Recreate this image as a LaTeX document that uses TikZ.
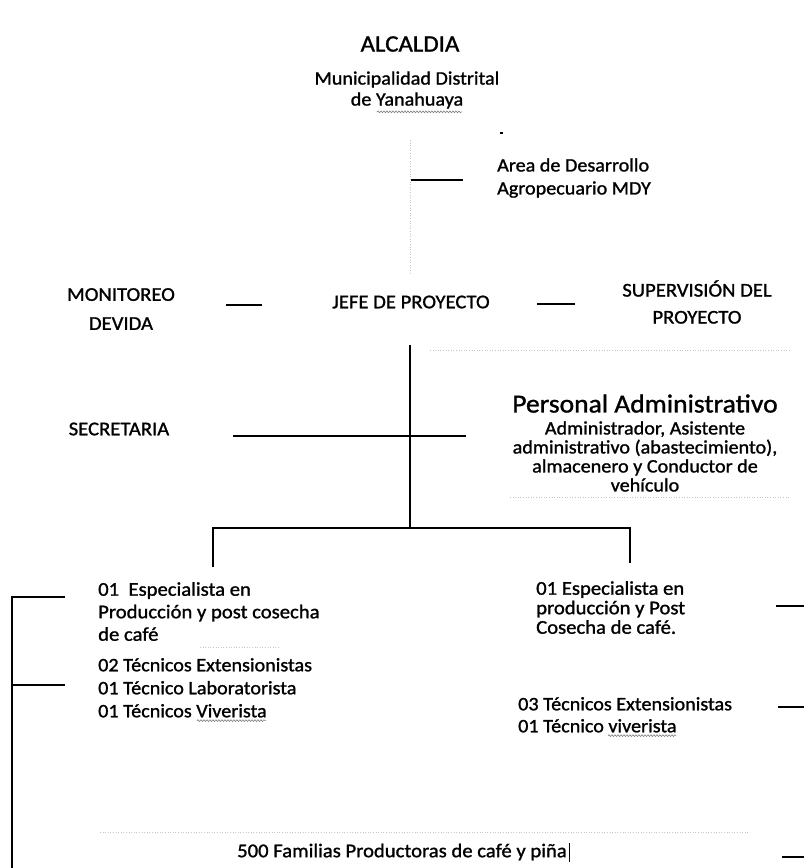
\documentclass[tikz,border=0pt]{standalone}
\usepackage{fontspec}
\setmainfont{Carlito}[FakeStretch=1.06,FakeBold=1.2]
\usetikzlibrary{calc,decorations.pathmorphing}
\begin{document}
\begin{tikzpicture}[x=1pt,y=-1pt,
  lbl/.style={inner sep=0pt, font=\fontsize{19.5}{29}\selectfont, align=center},
  lbll/.style={inner sep=0pt, anchor=west, align=left},
  conn/.style={line width=2pt},
  faint/.style={gray!45, dotted, line width=0.6pt},
  squiggle/.style={gray, line width=0.6pt, decorate, decoration={snake, amplitude=0.9pt, segment length=3pt}}]
\useasboundingbox (0,0) rectangle (804,868);
\fill[white] (0,0) rectangle (804,868);

% top
\node[lbl, font=\fontsize{23.5}{26}\selectfont] (alc) at (410,44) {ALCALDIA};
\node[lbl, font=\fontsize{19}{21}\selectfont] (mun) at (407,90) {Municipalidad Distrital\\de Yanahuaya};
\draw[squiggle] ($(mun.south)+(-30,3)$) -- ($(mun.south)+(55,3)$);
\coordinate (dash) at (500,133);
\draw[line width=1.5pt] (dash) -- ++(3,0);
\node[lbll, font=\fontsize{19}{23}\selectfont] (area) at (497,178) {Area de Desarrollo\\Agropecuario MDY};
\coordinate (areaL) at (411,180);
\draw[conn] (areaL) -- ($(area.west)+(-34,2)$);
\draw[faint] (410,140) -- (410,275);

% row 2
\node[lbl] (mon) at (121,309) {MONITOREO\\DEVIDA};
\node[lbl] (jefe) at (411,302) {JEFE DE PROYECTO};
\node[lbl, font=\fontsize{19.5}{27}\selectfont] (sup) at (697,302) {SUPERVISIÓN DEL\\PROYECTO};
\coordinate (m1) at (226,305);
\coordinate (m2) at (262,305);
\draw[conn] (m1) -- (m2);
\coordinate (s1) at (537,304);
\coordinate (s2) at (575,304);
\draw[conn] (s1) -- (s2);
\draw[faint] (430,350) -- (790,350);

% row 3
\node[lbl] (sec) at (119,429) {SECRETARIA};
\node[lbl, font=\fontsize{19}{19}\selectfont] (adm) at (645,443)
  {{\fontsize{26}{28}\selectfont Personal Administrativo}\\[3pt]Administrador, Asistente\\administrativo (abastecimiento),\\almacenero y Conductor de\\vehículo};
\coordinate (top) at (410,345);
\coordinate (split) at (410,528);
\coordinate (secL) at (233,436);
\coordinate (secR) at (466,436);
\draw[conn] (top) -- (split);
\draw[conn] (secL) -- (secR);
\draw[faint] (510,497) -- (790,497);

% branches
\node[lbll, font=\fontsize{19.5}{22.5}\selectfont, anchor=north west] (espL) at (98,582) {01~ Especialista en\\Producción y post cosecha\\de café};
\node[lbll, font=\fontsize{19.5}{19.5}\selectfont, anchor=north west] (espR) at (536,581) {01 Especialista en\\producción y Post\\Cosecha de café.};
\draw[conn] (213,567) |- (630,528) -- (630,563);

\node[lbll, font=\fontsize{19}{23}\selectfont, anchor=north west] (tecL) at (98,658) {02 Técnicos Extensionistas\\01 Técnico Laboratorista\\01 Técnicos Viverista};
\draw[squiggle] ($(tecL.south west)+(99,3)$) -- ($(tecL.south west)+(168,3)$);
\node[lbll, font=\fontsize{19}{22}\selectfont, anchor=north west] (tecR) at (518,697) {03 Técnicos Extensionistas\\01 Técnico viverista};
\draw[squiggle] ($(tecR.south west)+(90,3)$) -- ($(tecR.south west)+(158,3)$);
\draw[faint] (200,647) -- (280,647);

\node[lbl, font=\fontsize{19.5}{22}\selectfont] (fam) at (402,852) {500 Familias Productoras de café y piña};
\draw[line width=0.8pt] ($(fam.east)+(2,-9)$) -- ($(fam.east)+(2,10)$);
\draw[faint] (100,832) -- (750,832);

% left bracket
\coordinate (lb0) at (12,597);
\coordinate (lb1) at (12,685);
\coordinate (lbB) at (12,868);
\draw[conn] (65,597) -- (lb0) -- (lbB);
\draw[conn] (lb1) -- (65,685);

% right stubs
\draw[conn] (776,606) -- (804,606);
\draw[conn] (778,707) -- (804,707);
\draw[conn] (782,857) -- (804,857);
\end{tikzpicture}
\end{document}
